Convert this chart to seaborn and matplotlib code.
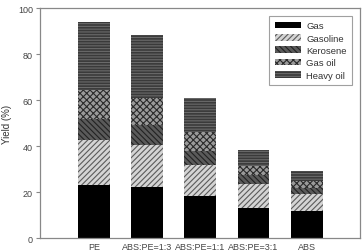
import matplotlib
matplotlib.use("Agg")
import matplotlib.pyplot as plt
import seaborn as sns
import pandas as pd
from matplotlib.patches import Patch

categories = ["PE", "ABS:PE=1:3", "ABS:PE=1:1", "ABS:PE=3:1", "ABS"]
gas = [23.2, 22.0, 18.1, 13.2, 11.9]
gasoline = [19.4, 18.4, 13.6, 10.3, 7.4]
kerosene = [9.1, 8.7, 6.3, 3.9, 2.4]
gas_oil = [12.8, 11.6, 8.2, 4.0, 3.2]
heavy_oil = [29.3, 27.7, 14.7, 7.0, 4.4]

series = [("Gas", gas), ("Gasoline", gasoline), ("Kerosene", kerosene),
          ("Gas oil", gas_oil), ("Heavy oil", heavy_oil)]
styles = {
    "Gas": dict(fc="#000000", ec="#000000", hatch=None),
    "Gasoline": dict(fc="#d4d4d4", ec="#5a5a5a", hatch="//////"),
    "Kerosene": dict(fc="#5a5a5a", ec="#222222", hatch="\\\\\\\\\\\\"),
    "Gas oil": dict(fc="#9a9a9a", ec="#2a2a2a", hatch="xxxxx"),
    "Heavy oil": dict(fc="#3a3a3a", ec="#6a6a6a", hatch="------"),
}

sns.set_style("ticks")
plt.rcParams["font.family"] = ["Liberation Sans", "DejaVu Sans"]
plt.rcParams["hatch.linewidth"] = 0.8

fig = plt.figure(figsize=(3.62, 2.53), dpi=100)
ax = fig.add_axes([0.110, 0.055, 0.884, 0.909])

bottom = [0.0] * len(categories)
handles = []
for name, vals in series:
    df = pd.DataFrame({"cat": categories, "val": vals})
    st = styles[name]
    n_before = len(ax.patches)
    sns.barplot(data=df, x="cat", y="val", ax=ax, bottom=bottom, width=0.6,
                color=st["fc"], saturation=1, errorbar=None)
    for p in ax.patches[n_before:]:
        p.set_facecolor(st["fc"])
        p.set_edgecolor(st["ec"])
        p.set_linewidth(0)
        if st["hatch"]:
            p.set_hatch(st["hatch"])
    handles.append(Patch(facecolor=st["fc"], edgecolor=st["ec"], hatch=st["hatch"],
                         linewidth=0, label=name))
    bottom = [b + v for b, v in zip(bottom, vals)]

ax.set_xlim(-1.02, 5.0)
ax.set_ylim(0, 100)
ax.set_yticks([0, 20, 40, 60, 80, 100])
ax.set_xlabel("")
ax.set_ylabel("Yield (%)", fontsize=7, color="#333333", labelpad=4)
ax.tick_params(axis="y", labelsize=6.5, colors="#444444", length=3, width=0.8, pad=2)
ax.tick_params(axis="x", labelsize=6.5, colors="#444444", length=0, pad=3)
ax.tick_params(axis="both", color="#888888")
for s in ax.spines.values():
    s.set_visible(True)
    s.set_color("#888888")
    s.set_linewidth(0.9)

leg = ax.legend(handles=handles, loc="upper right", fontsize=6.8, frameon=True,
                fancybox=False, edgecolor="#888888", borderaxespad=0.8,
                handlelength=2.8, handleheight=0.7, labelspacing=0.35,
                handletextpad=0.5, borderpad=0.6)
leg.get_frame().set_linewidth(0.8)
for t in leg.get_texts():
    t.set_color("#333333")

fig.savefig("out.png", dpi=100)
